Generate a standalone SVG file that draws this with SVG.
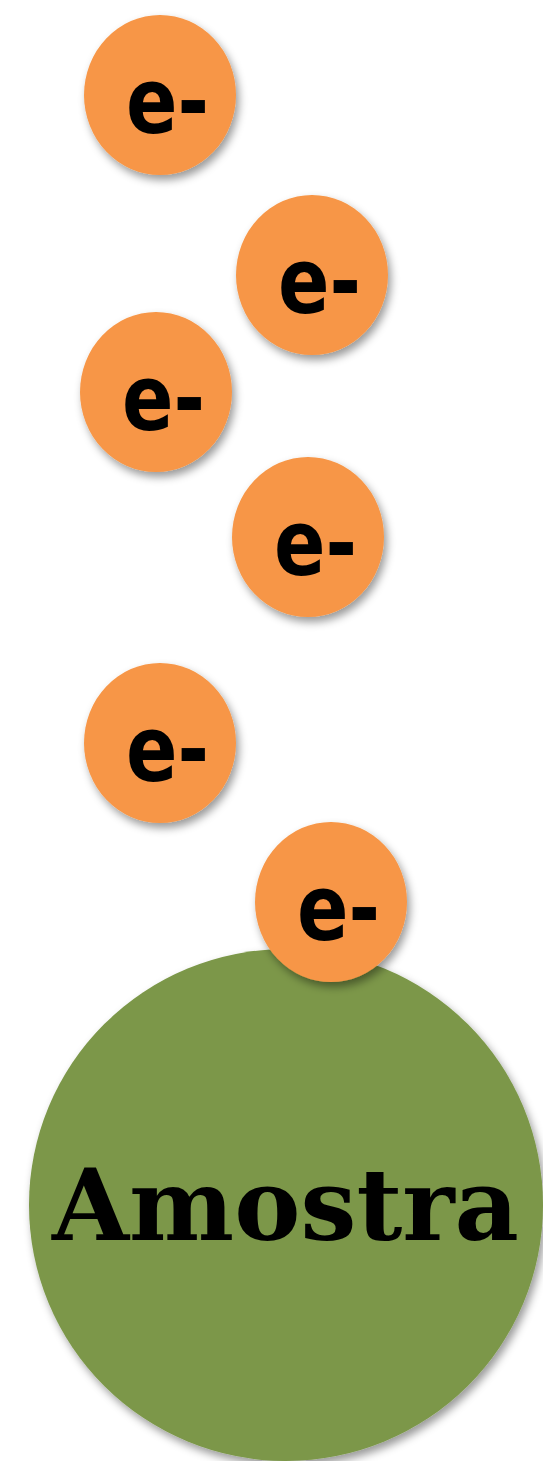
<svg xmlns="http://www.w3.org/2000/svg" width="543" height="1461" viewBox="0 0 543 1461">
<style>
.e{fill:#F79646;filter:url(#sh)}
.et{font-family:"DejaVu Sans","Liberation Sans",sans-serif;font-weight:bold;font-size:90px;fill:#000}
.s{fill:#7B9748;filter:url(#sh)}
.st{font-family:"DejaVu Serif","Liberation Serif",serif;font-weight:bold;font-size:100px;fill:#000}
</style>
<defs>
<filter id="sh" x="-20%" y="-20%" width="150%" height="150%">
<feDropShadow dx="3" dy="5" stdDeviation="4" flood-color="#000" flood-opacity="0.4"/>
</filter>
</defs>
<rect width="543" height="1461" fill="#fff"/>
<g id="sample">
<ellipse class="s" cx="286" cy="1205" rx="257" ry="256"/>
<text class="st" x="52" y="1240" textLength="467" lengthAdjust="spacingAndGlyphs">Amostra</text>
</g>
<g id="connectors"></g>
<g id="e1"><ellipse class="e" cx="160" cy="95" rx="76" ry="80"/><text class="et" x="126" y="133" textLength="83" lengthAdjust="spacingAndGlyphs">e-</text></g>
<g id="e2"><ellipse class="e" cx="312" cy="275" rx="76" ry="80"/><text class="et" x="278" y="313" textLength="83" lengthAdjust="spacingAndGlyphs">e-</text></g>
<g id="e3"><ellipse class="e" cx="156" cy="392" rx="76" ry="80"/><text class="et" x="122" y="430" textLength="83" lengthAdjust="spacingAndGlyphs">e-</text></g>
<g id="e4"><ellipse class="e" cx="308" cy="537" rx="76" ry="80"/><text class="et" x="274" y="575" textLength="83" lengthAdjust="spacingAndGlyphs">e-</text></g>
<g id="e5"><ellipse class="e" cx="160" cy="743" rx="76" ry="80"/><text class="et" x="126" y="781" textLength="83" lengthAdjust="spacingAndGlyphs">e-</text></g>
<g id="e6"><ellipse class="e" cx="331" cy="902" rx="76" ry="80"/><text class="et" x="297" y="940" textLength="83" lengthAdjust="spacingAndGlyphs">e-</text></g>
</svg>
